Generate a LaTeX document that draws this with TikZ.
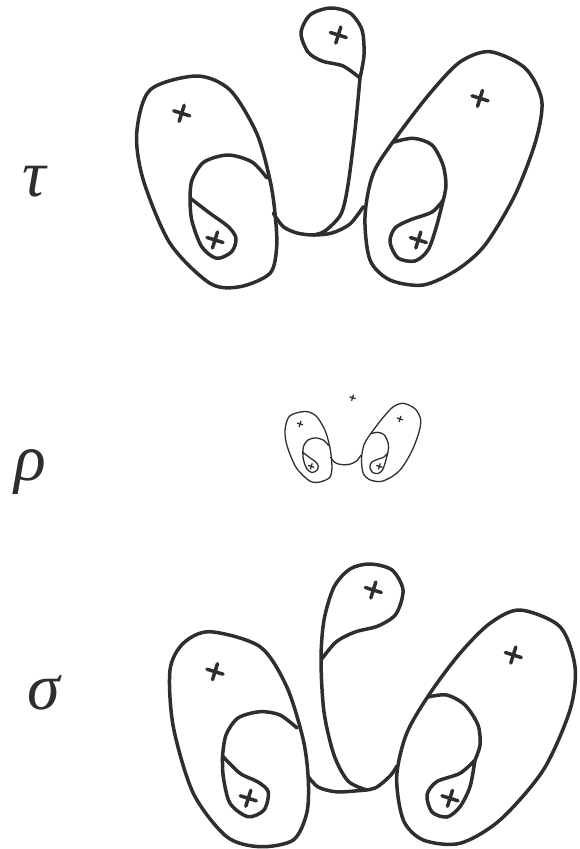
\documentclass[tikz,border=0pt]{standalone}
\usepackage{fontspec}
\setmainfont{Liberation Serif}
\definecolor{ink}{HTML}{2E2E2E}
\tikzset{
  curve/.style={draw=ink, line width=3.5pt, line cap=round, line join=round},
  lbl/.style={text=ink, inner sep=0pt, font=\fontsize{66}{66}\selectfont\itshape},
}
\newcommand\crs[2]{\draw[curve] (#1,#2) +(-8,-2.5) -- +(8,2.5) +(2.5,-8) -- +(-2.5,8);}
% ovals, loops and teardrops of the upper figure (reused, scaled, in the middle)
\newcommand\upperbody{%
  \draw[curve] plot[smooth cycle] coordinates {(196.7,76) (230,90) (256.7,133.3) (270,180) (275,213.3) (276.7,246.7) (270,273.3) (240,286.7) (210,283.3) (170,243.3) (143.3,180) (136.7,133.3) (150,90)};
  \draw[curve] plot[smooth] coordinates {(267,178) (252,162) (228,155) (204,162) (192,180) (190,198)};
  \draw[curve] plot[smooth] coordinates {(190,198) (191.7,220) (201.7,246.7) (216.7,258.3) (231.7,251.7) (236,238.3) (228.3,226.7) (210,213.3) (190,198)};
  \draw[curve] plot[smooth] coordinates {(273.3,213.3) (283.3,226.7) (297,233) (313.3,235) (332,233) (350,224) (363.3,206.7)};
  \draw[curve] plot[smooth cycle] coordinates {(490,51.7) (525,68) (541.7,100) (536,140) (515,195) (485,245) (456.7,270) (423.3,285) (390,280) (370,260) (365,216.7) (373.3,173.3) (396.7,136.7) (430,93.3) (460,62)};
  \draw[curve] plot[smooth] coordinates {(394,142) (413.3,138.3) (432,145) (443,165) (446,185) (443.3,200)};
  \draw[curve] plot[smooth] coordinates {(443.3,200) (432,212) (410,220) (395,228) (390,242) (398,258) (415,261) (428,250) (436,228) (443.3,200)};
  \crs{181.7}{113.3}
  \crs{215}{240}
  \crs{338.3}{35}
  \crs{480}{98.3}
  \crs{418.3}{240}
}
\begin{document}
\begin{tikzpicture}[x=1pt, y=-1pt]
  \useasboundingbox (0,0) rectangle (579,849);

  % labels
  \node[lbl] (ltau) at (34,182) {τ};
  \node[lbl] (lrho) at (30,472) {ρ};
  \node[lbl] (lsig) at (44,693) {σ};

  % upper figure
  \upperbody
  \draw[curve] plot[smooth] coordinates {(360,78) (364,55) (362,30) (350,13) (330,8) (310,15) (301,33) (308,52) (322,61) (343,66) (360,78)};
  \draw[curve] plot[smooth] coordinates {(360,78) (355,130) (348,185) (341,214) (325,231) (313.3,235)};

  % middle (small) figure
  \begin{scope}[shift={(239.2,386)}, scale=0.335,
      curve/.style={draw=ink, line width=1.3pt, line cap=round, line join=round}]
    \upperbody
  \end{scope}

  % lower figure
  \draw[curve] plot[smooth cycle] coordinates {(210,631.7) (260,646.7) (286.7,686.7) (303.3,740) (308.3,780) (306.7,813.3) (293.3,840) (260,846.7) (226.7,836.7) (193.3,793.3) (173.3,726.7) (170,670) (183.3,643.3)};
  \draw[curve] plot[smooth] coordinates {(297,728) (280,715) (260,711.7) (238,718) (226,735) (222.5,756)};
  \draw[curve] plot[smooth] coordinates {(222.5,756) (223.3,776.7) (230,803.3) (248,816.7) (264,810) (268.3,792) (258,782) (240,773.3) (222.5,756)};
  \draw[curve] plot[smooth] coordinates {(308.3,776.7) (318,787) (335,791.7) (355,791) (375,788) (390,776) (397,766)};
  \draw[curve] plot[smooth] coordinates {(366.7,790) (348,781) (334,755) (324,712) (321,660) (324,620) (334,587) (350,569) (370,564) (392,570) (403,590) (396,614) (378,626) (355,632) (336,642) (321,660)};
  \draw[curve] plot[smooth cycle] coordinates {(520,610) (560,626.7) (575,666.7) (570,710) (543.3,770) (500,820) (460,843.3) (423.3,840) (403.3,820) (396.7,776.7) (406.7,733.3) (430,693.3) (460,653.3) (490,623.3)};
  \draw[curve] plot[smooth] coordinates {(428,697) (446.7,695) (465,705) (478,725) (480,745) (475,760)};
  \draw[curve] plot[smooth] coordinates {(475,760) (460,773.3) (436.7,781.7) (427,795) (432,812) (447,817) (460,806.7) (470,786.7) (475,760)};
  \crs{215}{671.7}
  \crs{248.3}{798.3}
  \crs{373.3}{590}
  \crs{513.3}{655}
  \crs{450}{798.3}
\end{tikzpicture}
\end{document}
